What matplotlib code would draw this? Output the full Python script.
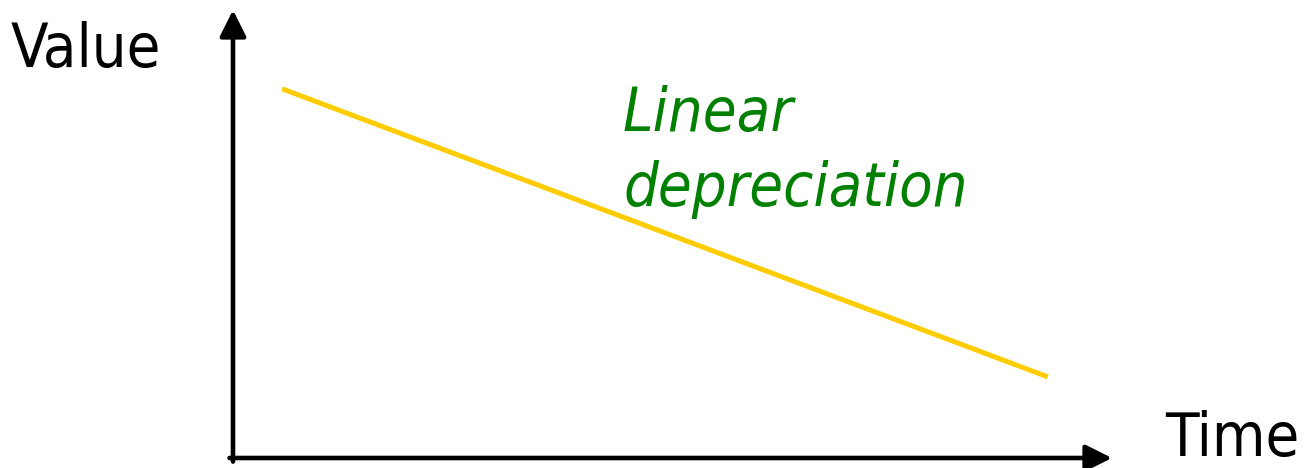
import matplotlib.pyplot as plt

# line endpoints in arbitrary (time, value) units
time = [0.56, 9.27]
value = [8.24, 1.81]

W, H = 1307, 468


def main() -> None:
    fig = plt.figure(figsize=(W / 100, H / 100), dpi=100)
    # axes box placed so that its origin sits at the corner of the drawn axes
    ax = fig.add_axes([233 / W, 10 / H, (1112 - 233) / W, (458 - 10) / H])
    ax.set_xlim(0, 10)
    ax.set_ylim(0, 10)
    ax.axis("off")

    ax.plot(time, value, color="#ffcc00", lw=3.6, solid_capstyle="butt")

    # axis arrows
    arrow = dict(arrowstyle="-|>,head_width=0.4,head_length=0.8", lw=3.3,
                 color="black", shrinkA=0, shrinkB=0, mutation_scale=20)
    ax.annotate("", xy=(0, 1.0), xytext=(0, -0.008), xycoords="axes fraction",
                arrowprops=arrow)
    ax.annotate("", xy=(1.0, 0), xytext=(-0.004, 0), xycoords="axes fraction",
                arrowprops=arrow)

    font = dict(family="DejaVu Sans", stretch="condensed", fontsize=44)
    fig.text(11 / W, 1 - 67 / H, "Value", ha="left", va="baseline", **font)
    fig.text(1165 / W, 1 - 456 / H, "Time", ha="left", va="baseline", **font)
    fig.text(623 / W, 1 - 131 / H, "Linear", ha="left", va="baseline",
             color="#008000", style="italic", **font)
    fig.text(623 / W, 1 - 206 / H, "depreciation", ha="left", va="baseline",
             color="#008000", style="italic", **font)

    fig.savefig("out.png", dpi=100)


if __name__ == "__main__":
    main()
